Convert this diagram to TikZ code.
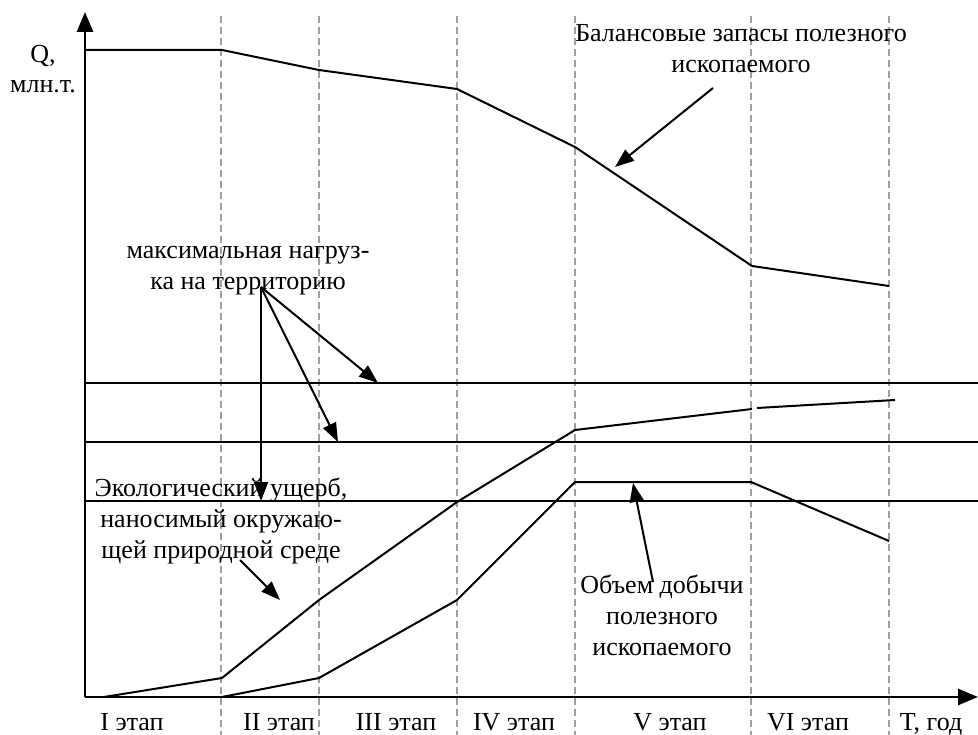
\documentclass[tikz,border=0pt]{standalone}
\usepackage{fontspec}
\setmainfont{Liberation Serif}
\usetikzlibrary{arrows.meta}
\begin{document}
\begin{tikzpicture}[x=1pt,y=-1pt,
  curve/.style={line width=2pt,line join=miter},
  hline/.style={line width=2pt},
  axis/.style={line width=2.8pt,-{Triangle[length=20pt,width=16pt]}},
  pointer/.style={line width=2pt,-{Triangle[length=19pt,width=14pt]}},
  stage/.style={draw=gray!75,line width=1.6pt,dash pattern=on 7pt off 4pt},
  lbl/.style={font=\fontsize{26}{31}\selectfont,inner sep=0pt,anchor=base,align=center},
]
\useasboundingbox (0,0) rectangle (978,735);

% stage separators
\foreach \x [count=\i] in {221,319,457,575,751,889}
  \draw[stage] (\x,16) -- (\x,735);

% axes
\coordinate (O) at (85,697);
\coordinate (ytop) at (85,12);
\coordinate (xend) at (978,697);
\draw[axis] (O) -- (ytop);
\draw[axis] (O) -- (xend);

% horizontal limit lines
\foreach \y/\n in {383/a,442/b,501/c}{
  \coordinate (h\n L) at (85,\y);
  \coordinate (h\n R) at (978,\y);
  \draw[hline] (h\n L) -- (h\n R);
}

% balance reserves
\coordinate (b1) at (85,50);
\coordinate (b2) at (222,50);
\coordinate (b3) at (319,70);
\coordinate (b4) at (457,89);
\coordinate (b5) at (575,147);
\coordinate (b6) at (752,266);
\coordinate (b7) at (889,286);
\draw[curve] (b1) -- (b2) -- (b3) -- (b4) -- (b5) -- (b6) -- (b7);

% ecological damage
\coordinate (e1) at (104,697);
\coordinate (e2) at (222,678);
\coordinate (e3) at (319,600);
\coordinate (e4) at (457,502);
\coordinate (e5) at (575,430);
\coordinate (e6) at (752,409);
\coordinate (e7) at (757,408);
\coordinate (e8) at (895,400);
\draw[curve] (e1) -- (e2) -- (e3) -- (e4) -- (e5) -- (e6);
\draw[curve] (e7) -- (e8);

% extraction volume
\coordinate (v1) at (222,697);
\coordinate (v2) at (319,678);
\coordinate (v3) at (457,600);
\coordinate (v4) at (575,482);
\coordinate (v5) at (751,482);
\coordinate (v6) at (889,541);
\draw[curve] (v1) -- (v2) -- (v3) -- (v4) -- (v5) -- (v6);

% labels (base anchor = baseline of the last line)
\node[lbl] (q) at (43,63) {Q,};
\node[lbl] (unit) at (43,93) {млн.т.};
\node[lbl] (bal) at (741,73) {Балансовые запасы полезного\\ископаемого};
\node[lbl] (load) at (248,290) {максимальная нагруз-\\ка на территорию};
\node[lbl] (eco) at (221,558) {Экологический ущерб,\\наносимый окружаю-\\щей природной среде};
\node[lbl] (vol) at (662,655) {Объем добычи\\полезного\\ископаемого};

\node[lbl] (s1) at (132,730) {I этап};
\node[lbl] (s2) at (279,730) {II этап};
\node[lbl] (s3) at (396,730) {III этап};
\node[lbl] (s4) at (514,730) {IV этап};
\node[lbl] (s5) at (670,730) {V этап};
\node[lbl] (s6) at (808,730) {VI этап};
\node[lbl] (tl) at (931,730) {T, год};

% pointer arrows
\coordinate (balS) at (713,88);
\coordinate (balT) at (615,167);
\draw[pointer] (balS) -- (balT);

\coordinate (loadS) at (261,287);
\coordinate (loadT1) at (378,383);
\coordinate (loadT2) at (338,442);
\coordinate (loadT3) at (261,501);
\draw[pointer] (loadS) -- (loadT1);
\draw[pointer] (loadS) -- (loadT2);
\draw[pointer] (loadS) -- (loadT3);

\coordinate (ecoS) at (240,560);
\coordinate (ecoT) at (280,600);
\draw[pointer] (ecoS) -- (ecoT);

\coordinate (volS) at (653,582);
\coordinate (volT) at (633,483);
\draw[pointer] (volS) -- (volT);
\end{tikzpicture}
\end{document}
